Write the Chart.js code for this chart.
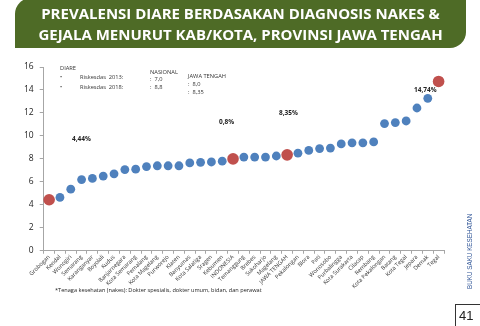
<!DOCTYPE html>
<html>
<head>
<meta charset="utf-8">
<script src="https://cdn.jsdelivr.net/npm/chart.js@4.4.1/dist/chart.umd.min.js"></script>
<style>
  body { margin: 0; background: #fff; font-family: "Open Sans", sans-serif; }
  #page { position: relative; width: 480px; height: 326px; overflow: hidden; }
  #banner {
    position: absolute; left: 15px; top: -2px; width: 451px; height: 50px;
    background: #4e6b26; border-radius: 16px 0 16px 0;
    color: #fff; font-weight: bold; font-size: 15px; line-height: 21px;
    text-align: center; padding-top: 5px; box-sizing: border-box; letter-spacing: 0;
  }
  #myChart { position: absolute; left: 0; top: 0; }
  .t { position: absolute; font-size: 5.7px; color: #333; white-space: nowrap; }
  .lbl { position: absolute; font-size: 6.5px; font-weight: bold; color: #222; white-space: nowrap; }
  #foot { position: absolute; left: 55px; top: 286px; font-size: 5.6px; color: #222; white-space: nowrap; }
  #side {
    position: absolute; left: 466px; top: 289px; font-size: 6.3px; color: #2f5597;
    transform: rotate(-90deg); transform-origin: 0 0; white-space: nowrap; font-family: "Liberation Sans", sans-serif;
  }
  #pg { position: absolute; left: 455px; top: 304px; width: 30px; height: 30px;
    border-left: 1.5px solid #333; border-top: 1.5px solid #333; }
  #pgn { position: absolute; left: 459px; top: 308px; font-size: 13px; color: #222; font-family: "Liberation Sans", sans-serif; }
</style>
</head>
<body>
<div id="page">
  <canvas id="myChart" width="480" height="326"></canvas>
  <div id="banner">PREVALENSI DIARE BERDASAKAN DIAGNOSIS NAKES &amp;<br>GEJALA MENURUT KAB/KOTA, PROVINSI JAWA TENGAH</div>

  <div class="t" style="left:60px;top:64px">DIARE</div>
  <div class="t" style="left:60px;top:73px">•</div>
  <div class="t" style="left:80px;top:73px">Riskesdas&nbsp; 2013:</div>
  <div class="t" style="left:60px;top:83px">•</div>
  <div class="t" style="left:80px;top:83px">Riskesdas&nbsp; 2018:</div>
  <div class="t" style="left:150px;top:68px">NASIONAL</div>
  <div class="t" style="left:150px;top:75px">:&nbsp; 7,0</div>
  <div class="t" style="left:150px;top:83px">:&nbsp; 8,8</div>
  <div class="t" style="left:188px;top:72px">JAWA TENGAH</div>
  <div class="t" style="left:188px;top:80px">:&nbsp; 8,0</div>
  <div class="t" style="left:188px;top:88px">:&nbsp; 8,35</div>

  <div class="lbl" style="left:72px;top:134px">4,44%</div>
  <div class="lbl" style="left:219px;top:117px">0,8%</div>
  <div class="lbl" style="left:279px;top:108px">8,35%</div>
  <div class="lbl" style="left:414px;top:85px">14,74%</div>

  <div id="foot">*Tenaga kesehatan (nakes): Dokter spesialis, dokter umum, bidan, dan perawat</div>
  <div id="side">BUKU SAKU KESEHATAN</div>
  <div id="pg"></div>
  <div id="pgn">41</div>
</div>
<script>
const regions = ['Grobogan', 'Kendal', 'Wonogiri', 'Semarang', 'Karanganyar', 'Boyolali', 'Kudus',
    'Banjarnegara', 'Kota Semarang', 'Pemalang', 'Kota Magelang', 'Purworejo', 'Klaten', 'Banyumas',
    'Kota Salatiga', 'Sragen', 'Kebumen', 'INDONESIA', 'Temanggung', 'Brebes', 'Sukoharjo', 'Magelang',
    'JAWA TENGAH', 'Pekalongan', 'Blora', 'Pati', 'Wonosobo', 'Purbalingga', 'Kota Surakarta', 'Cilacap',
    'Rembang', 'Kota Pekalongan', 'Batang', 'Kota Tegal', 'Jepara', 'Demak', 'Tegal'];

const prevalence = [4.44, 4.64, 5.36, 6.2, 6.3, 6.5, 6.7, 7.07, 7.1, 7.33, 7.4, 7.4, 7.4, 7.65, 7.7,
    7.73, 7.8, 8.0, 8.16, 8.16, 8.16, 8.25, 8.35, 8.5, 8.74, 8.9, 8.94, 9.3, 9.4, 9.4, 9.48, 11.07,
    11.16, 11.3, 12.43, 13.27, 14.74];

// titik yang disorot merah
const highlighted = ['Grobogan', 'INDONESIA', 'JAWA TENGAH', 'Tegal'];

const yTicks = [0, 2, 4, 6, 8, 10, 12, 14, 16];

const blue = '#4f81bd';
const red = '#c0504d';

const ctx = document.getElementById('myChart').getContext('2d');
const chart = new Chart(ctx, {
    type: 'line',
    data: {
        labels: regions,
        datasets: [{
            data: prevalence,
            showLine: false,
            pointRadius: regions.map(r => highlighted.includes(r) ? 5.8 : 4.4),
            pointBackgroundColor: regions.map(r => highlighted.includes(r) ? red : blue),
            pointBorderColor: regions.map(r => highlighted.includes(r) ? red : blue),
            pointBorderWidth: 0
        }]
    },
    options: {
        responsive: false,
        animation: false,
        layout: { padding: { left: 18, right: 36, top: 67, bottom: 36 } },
        plugins: { legend: { display: false }, tooltip: { enabled: false } },
        scales: {
            x: {
                offset: true,
                grid: { display: true, drawOnChartArea: false, offset: true, color: '#a6a6a6', tickLength: 3 },
                border: { color: '#a6a6a6' },
                ticks: {
                    autoSkip: false, maxRotation: 45, minRotation: 45, padding: 0,
                    color: '#333', font: { size: 5.7, family: 'Open Sans' }
                }
            },
            y: {
                min: 0, max: 16,
                afterBuildTicks: axis => { axis.ticks = yTicks.map(v => ({ value: v })); },
                grid: { display: true, drawOnChartArea: false, color: '#a6a6a6', tickLength: 4 },
                border: { color: '#a6a6a6' },
                ticks: { color: '#222', padding: 6, font: { size: 8.5, family: 'Open Sans' } }
            }
        }
    }
});
</script>
</body>
</html>
